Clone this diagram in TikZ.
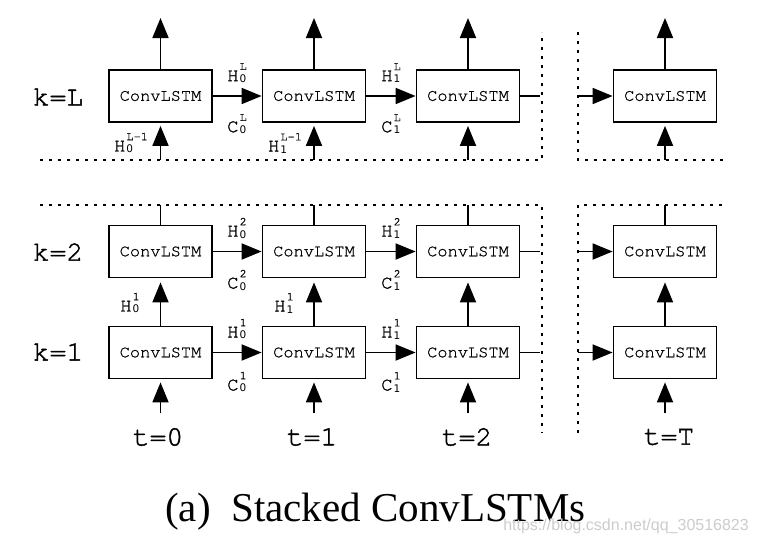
\documentclass[tikz,border=0pt]{standalone}
\usepackage{fontspec}
\setmainfont{Liberation Serif}
\setmonofont{TeX Gyre Cursor}
\newfontfamily\curA[FakeBold=0.8]{TeX Gyre Cursor}
\newfontfamily\curB[FakeBold=1.6]{TeX Gyre Cursor}
\newfontfamily\curC[FakeBold=1.2]{TeX Gyre Cursor}
\newfontfamily\subfnt{DejaVu Sans}
\newfontfamily\wmfnt{Liberation Sans}
\usetikzlibrary{arrows.meta}
\newcommand{\hc}[3]{{\curC #1}\kern1pt\raisebox{-1.5pt}{\vbox{\offinterlineskip\hbox{\fontsize{12}{12}\selectfont\curA #2}\kern5pt\hbox{\fontsize{10.5}{10.5}\selectfont\subfnt #3}}}}
\begin{document}
\begin{tikzpicture}[x=1pt,y=-1pt,
  cell/.style={draw, line width=1.8pt, minimum width=103pt, minimum height=52pt, inner sep=0pt, font=\fontsize{17}{17}\selectfont\curA},
  arr/.style={line width=1.8pt, -{Triangle[length=20pt,width=16pt]}},
  ln/.style={line width=1.8pt},
  dotl/.style={line width=2pt, dash pattern=on 3pt off 6pt},
  klab/.style={font=\fontsize{28}{28}\selectfont\curB, inner sep=0pt},
  hlab/.style={font=\fontsize{19}{19}\selectfont, inner sep=0pt}]
\useasboundingbox (0,0) rectangle (758,544);

% boxes
\foreach \n/\x in {0/160.5,1/314,2/468,T/665}{
  \node[cell] (L\n) at (\x,96) {ConvLSTM};
  \node[cell] (B\n) at (\x,251.5) {ConvLSTM};
  \node[cell] (A\n) at (\x,352.5) {ConvLSTM};
  \coordinate (oL\n) at (\x,18);
  \coordinate (iL\n) at (\x,160);
  \coordinate (iB\n) at (\x,205);
  \coordinate (iA\n) at (\x,413);
  \draw[arr] (L\n.north) -- (oL\n);
  \draw[arr] (iL\n) -- ([yshift=-3pt]L\n.south);
  \draw[ln] (iB\n) -- (B\n.north);
  \draw[arr] (A\n.north) -- ([yshift=-4pt]B\n.south);
  \draw[arr] (iA\n) -- ([yshift=-3pt]A\n.south);
}

% horizontal connections
\foreach \r in {L,B,A}{
  \draw[arr] (\r0.east) -- (\r1.west);
  \draw[arr] (\r1.east) -- (\r2.west);
}
\coordinate (sL) at (540,96);  \coordinate (eL) at (578,96);
\coordinate (sB) at (540,251.5); \coordinate (eB) at (578,251.5);
\coordinate (sA) at (540,352.5); \coordinate (eA) at (578,352.5);
\foreach \r in {L,B,A}{
  \draw[ln] (\r2.east) -- (s\r);
  \draw[arr] (e\r) -- (\r T.west);
}

% dotted separators
\draw[dotl] (40,160) -- (542,160) -- (542,32);
\draw[dotl] (578,32) -- (578,160) -- (723,160);
\draw[dotl] (40,205) -- (542,205) -- (542,433);
\draw[dotl] (578,433) -- (578,205) -- (723,205);

% row labels
\node[klab] (kL) at (58,97) {k=L};
\node[klab] (k2) at (58,252) {k=2};
\node[klab] (k1) at (58,352) {k=1};

% time labels
\node[klab] (t0) at (158,437) {t=0};
\node[klab] (t1) at (312,437) {t=1};
\node[klab] (t2) at (467,437) {t=2};
\node[klab] (tT) at (669,437) {t=T};

% state labels
\node[hlab] (hL0) at (237,73) {\hc{H}{L}{0}};
\node[hlab] (cL0) at (237,124) {\hc{C}{L}{0}};
\node[hlab] (hL1) at (391,73) {\hc{H}{L}{1}};
\node[hlab] (cL1) at (391,124) {\hc{C}{L}{1}};
\node[hlab] (xL0) at (131,143) {\hc{H}{L-1}{0}};
\node[hlab] (xL1) at (285,143) {\hc{H}{L-1}{1}};

\node[hlab] (hB0) at (237,228) {\hc{H}{2}{0}};
\node[hlab] (cB0) at (237,280) {\hc{C}{2}{0}};
\node[hlab] (hB1) at (391,228) {\hc{H}{2}{1}};
\node[hlab] (cB1) at (391,280) {\hc{C}{2}{1}};

\node[hlab] (vA0) at (130,303) {\hc{H}{1}{0}};
\node[hlab] (vA1) at (284,303) {\hc{H}{1}{1}};

\node[hlab] (hA0) at (237,329) {\hc{H}{1}{0}};
\node[hlab] (cA0) at (237,382) {\hc{C}{1}{0}};
\node[hlab] (hA1) at (391,329) {\hc{H}{1}{1}};
\node[hlab] (cA1) at (391,382) {\hc{C}{1}{1}};

% caption and watermark
\node[font=\fontsize{41}{41}\selectfont, anchor=base west, inner sep=0pt] (cap) at (165,521) {(a)\hspace{0.5em}Stacked ConvLSTMs};
\node[font=\wmfnt\fontsize{16}{16}\selectfont, text=black!20, anchor=east, inner sep=0pt] (wm) at (749,526) {https://blog.csdn.net/qq\_30516823};
\end{tikzpicture}
\end{document}
